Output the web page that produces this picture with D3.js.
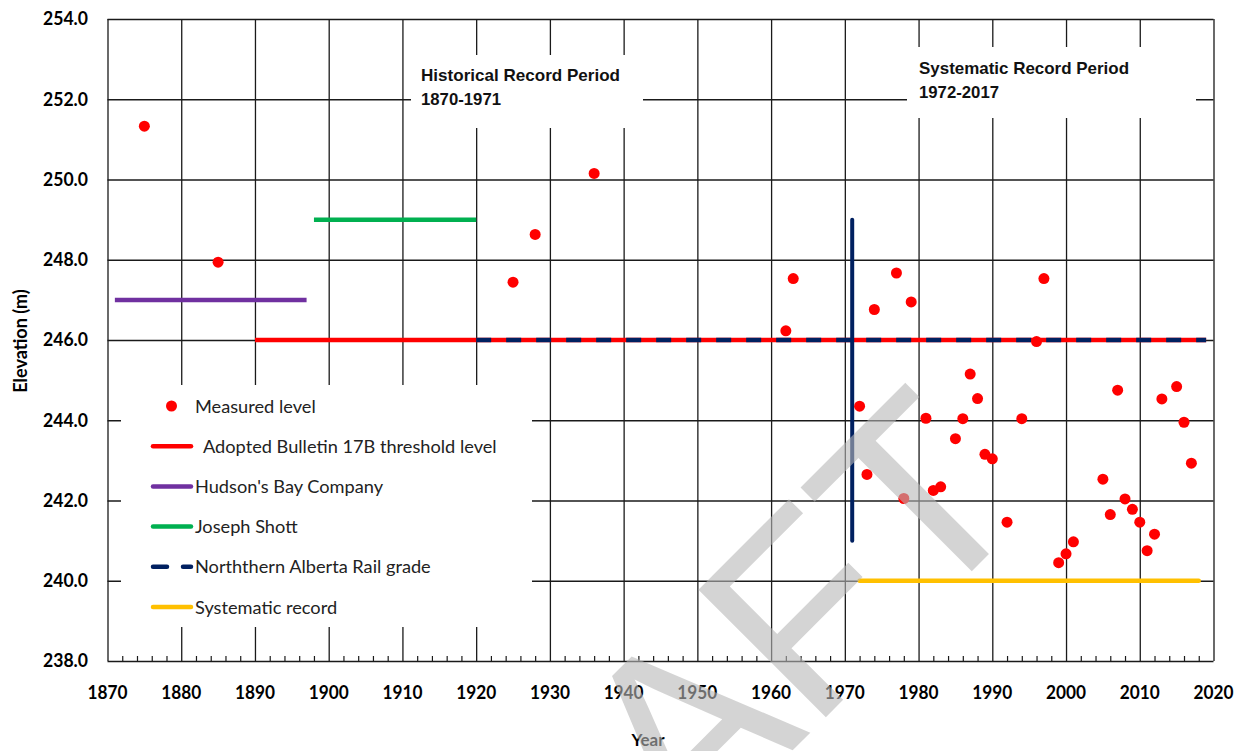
<!DOCTYPE html>
<html>
<head>
<meta charset="utf-8">
<script src="https://cdn.jsdelivr.net/npm/d3@7"></script>
<style>
  body { margin: 0; background: #fff; }
  #wrapper { width: 1238px; height: 751px; overflow: hidden; }
</style>
</head>
<body>
<div id="wrapper"></div>
<script>
// measured water levels (year, elevation m)
const years = [1875, 1885, 1925, 1928, 1936, 1962, 1963, 1972, 1973, 1974, 1977, 1978, 1979,
    1981, 1982, 1983, 1985, 1986, 1987, 1988, 1989, 1990, 1992, 1994, 1996, 1997, 1999, 2000,
    2001, 2005, 2006, 2007, 2008, 2009, 2010, 2011, 2012, 2013, 2015, 2016, 2017]
const levels = [251.33, 247.94, 247.44, 248.63, 250.15, 246.23, 247.53, 244.35, 242.65, 246.76, 247.67, 242.05, 246.95,
    244.05, 242.25, 242.34, 243.54, 244.04, 245.15, 244.54, 243.15, 243.04, 241.46, 244.04, 245.96, 247.53, 240.45, 240.67,
    240.97, 242.53, 241.65, 244.75, 242.04, 241.78, 241.46, 240.75, 241.16, 244.53, 244.84, 243.95, 242.93]

// reference levels: [from year, to year, elevation]
const threshold = [1890, 2019, 246]
const hudsonsBay = [1871, 1897, 247]
const josephShott = [1898, 1920, 249]
const railGrade = [1920, 2019, 246]
const railVertical = [1971, 241, 249]
const systematic = [1972, 2018, 240]

const xTicks = d3.range(1870, 2021, 10)
const xMinor = d3.range(1872, 2020, 2).filter(d => d % 10 != 0)
const yTicks = d3.range(238, 255, 2)

const legendItems = [
    { label: "Measured level", type: "dot", color: "#ff0000", tx: 195 },
    { label: "Adopted Bulletin 17B threshold level", type: "line", color: "#ff0000", tx: 203 },
    { label: "Hudson's Bay Company", type: "line", color: "#7030a0", tx: 195 },
    { label: "Joseph Shott", type: "line", color: "#00b050", tx: 195 },
    { label: "Norththern Alberta Rail grade", type: "dash", color: "#002060", tx: 195 },
    { label: "Systematic record", type: "line", color: "#ffc000", tx: 195 },
]

window.addEventListener("load", paint)

function paint() {
    const dims = getDimensions()
    const svg = d3.select("#wrapper")
        .append("svg")
            .attr("width", dims.width)
            .attr("height", dims.height)

    const x = d3.scaleLinear().domain([1870, 2020]).range([dims.left, dims.right])
    const y = d3.scaleLinear().domain([238, 254]).range([dims.bottom, dims.top])

    // grid
    svg.append("g")
        .attr("transform", `translate(0,${dims.bottom})`)
        .call(d3.axisBottom(x).tickValues(xTicks).tickSize(-(dims.bottom - dims.top)).tickFormat(""))
        .call(g => g.select(".domain").remove())
        .selectAll("line").attr("stroke", "#1a1a1a").attr("stroke-width", 1.3)

    svg.append("g")
        .attr("transform", `translate(${dims.left},0)`)
        .call(d3.axisLeft(y).tickValues(yTicks).tickSize(-(dims.right - dims.left)).tickFormat(""))
        .call(g => g.select(".domain").remove())
        .selectAll("line").attr("stroke", "#1a1a1a").attr("stroke-width", 1.3)

    // minor ticks at bottom
    svg.append("g")
        .attr("transform", `translate(0,${dims.bottom})`)
        .call(d3.axisBottom(x).tickValues(xMinor).tickSize(-5).tickFormat(""))
        .call(g => g.select(".domain").remove())
        .selectAll("line").attr("stroke", "#1a1a1a").attr("stroke-width", 1.2)

    // tick labels
    svg.append("g").selectAll("text")
        .data(xTicks).join("text")
            .attr("x", d => x(d)).attr("y", 699)
            .attr("text-anchor", "middle")
            .attr("font-family", "Lato").attr("font-weight", "bold").attr("font-size", 18)
            .attr("textLength", 40).attr("lengthAdjust", "spacingAndGlyphs")
            .attr("fill", "#000")
            .text(d => d)

    svg.append("g").selectAll("text")
        .data(yTicks).join("text")
            .attr("x", 88).attr("y", d => y(d)).attr("dy", "0.35em")
            .attr("text-anchor", "end")
            .attr("font-family", "Lato").attr("font-weight", "bold").attr("font-size", 18)
            .attr("textLength", 45).attr("lengthAdjust", "spacingAndGlyphs")
            .attr("fill", "#000")
            .text(d => d3.format(".1f")(d))

    svg.append("text")
        .attr("x", 648).attr("y", 746).attr("text-anchor", "middle")
        .attr("font-family", "Lato").attr("font-weight", "bold").attr("font-size", 17)
        .text("Year")

    svg.append("text")
        .attr("transform", "translate(27,341) rotate(-90)").attr("text-anchor", "middle")
        .attr("font-family", "Lato").attr("font-weight", "bold").attr("font-size", 18)
        .text("Elevation (m)")

    // white boxes behind annotations and legend
    svg.append("rect").attr("x", 411).attr("y", 55).attr("width", 232).attr("height", 73).attr("fill", "#fff")
    svg.append("rect").attr("x", 907).attr("y", 47).attr("width", 289).attr("height", 71).attr("fill", "#fff")
    svg.append("rect").attr("x", 121).attr("y", 385).attr("width", 411).attr("height", 242).attr("fill", "#fff")

    // reference lines
    const hline = (seg, color, dash) => svg.append("line")
        .attr("x1", x(seg[0])).attr("x2", x(seg[1]))
        .attr("y1", y(seg[2])).attr("y2", y(seg[2]))
        .attr("stroke", color).attr("stroke-width", 4.5)
        .attr("stroke-dasharray", dash || null)

    hline(threshold, "#ff0000")
    hline(railGrade, "#002060", "15,15")
    hline(hudsonsBay, "#7030a0")
    hline(josephShott, "#00b050")
    hline(systematic, "#ffc000").attr("stroke-linecap", "round")

    svg.append("line")
        .attr("x1", x(railVertical[0])).attr("x2", x(railVertical[0]))
        .attr("y1", y(railVertical[1])).attr("y2", y(railVertical[2]))
        .attr("stroke", "#002060").attr("stroke-width", 4).attr("stroke-linecap", "round")

    // points
    svg.append("g").selectAll("circle")
        .data(years).join("circle")
            .attr("cx", d => x(d))
            .attr("cy", (d, i) => y(levels[i]))
            .attr("r", 5.5)
            .attr("fill", "#ff0000")

    // annotations
    const note = (tx, ty, lines, widths) => {
        lines.forEach((t, i) => svg.append("text")
            .attr("x", tx).attr("y", ty + i * 24)
            .attr("font-family", "Liberation Sans, Arial").attr("font-weight", "bold").attr("font-size", 17)
            .attr("textLength", widths[i]).attr("lengthAdjust", "spacingAndGlyphs")
            .attr("fill", "#111")
            .text(t))
    }
    note(421, 81, ["Historical Record Period", "1870-1971"], [199, 80])
    note(919, 74, ["Systematic Record Period", "1972-2017"], [210, 80])

    // legend
    const legend = svg.append("g")
    legendItems.forEach((d, i) => {
        const ly = 406 + i * 40.2
        if (d.type == "dot") {
            legend.append("circle").attr("cx", 171.5).attr("cy", ly).attr("r", 5.5).attr("fill", d.color)
        } else {
            legend.append("line")
                .attr("x1", 153).attr("x2", 191).attr("y1", ly).attr("y2", ly)
                .attr("stroke", d.color).attr("stroke-width", 4.5).attr("stroke-linecap", "round")
                .attr("stroke-dasharray", d.type == "dash" ? "14,16" : null)
        }
        legend.append("text")
            .attr("x", d.tx).attr("y", ly).attr("dy", "0.36em")
            .attr("font-family", "Lato").attr("font-size", 18.2).attr("fill", "#222")
            .text(d.label)
    })

    // draft watermark
    svg.append("text")
        .attr("transform", "translate(1037,506) rotate(-45)")
        .attr("text-anchor", "end")
        .attr("font-family", "Liberation Sans, Arial").attr("font-size", 262)
        .attr("fill", "#b8b8b8").attr("fill-opacity", 0.6)
        .text("DRAFT")
}

function getDimensions() {
    return {
        width: 1238,
        height: 751,
        left: 107.5,
        right: 1213.5,
        top: 19,
        bottom: 661,
    }
}
</script>
</body>
</html>
